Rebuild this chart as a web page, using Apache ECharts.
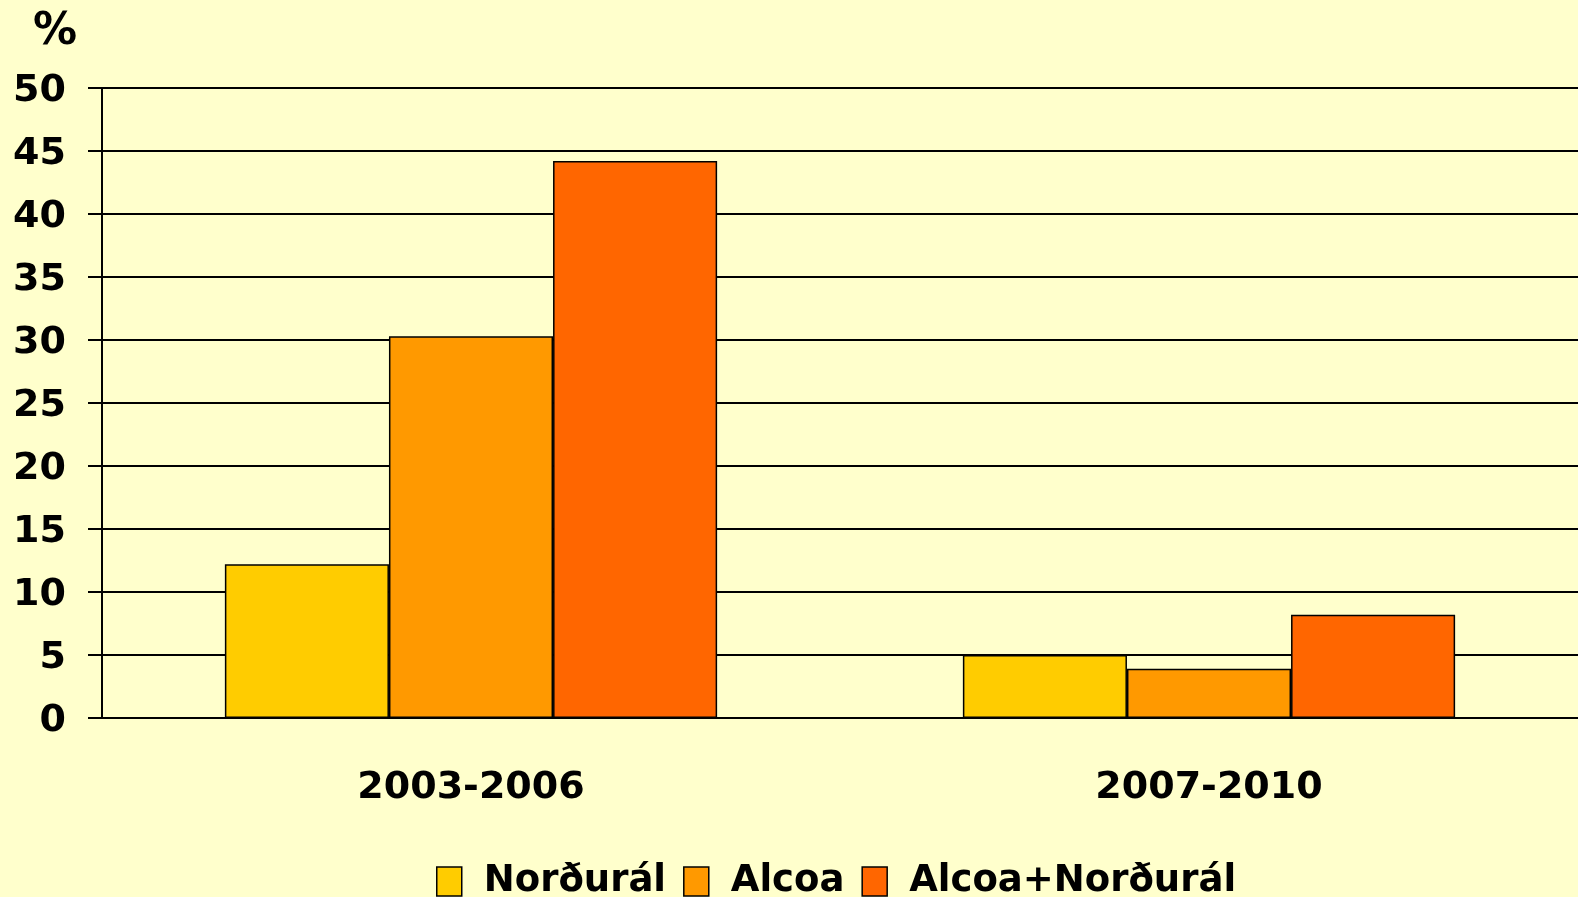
<!DOCTYPE html>
<html>
<head>
<meta charset="utf-8">
<script src="https://cdn.jsdelivr.net/npm/echarts@6/dist/echarts.min.js"></script>
<style>
html, body { margin: 0; padding: 0; background: #FFFFCC; }
#main { width: 1578px; height: 897px; }
</style>
</head>
<body>
<div id="main"></div>
<script>
var categories = ['2003-2006', '2007-2010'];
var seriesNames = ['Norðurál', 'Alcoa', 'Alcoa+Norðurál'];
var nordural = [12.2, 5.0];
var alcoa = [30.3, 3.9];
var alcoaNordural = [44.2, 8.2];

var myChart = echarts.init(document.getElementById('main'));

var font = 'DejaVu Sans';

function barSeries(name, data) {
	return {
		name : name,
		type : 'bar',
		barGap : 0,
		barCategoryGap : '33.3%',
		itemStyle : {
			borderColor : '#000000',
			borderWidth : 1.5
		},
		data : data
	};
}

var option = {
	backgroundColor : '#FFFFCC',
	color : [ '#FFCC00', '#FF9900', '#FF6600' ],
	title : {
		text : '%',
		left : 28,
		top : 6,
		textStyle : {
			fontFamily : font,
			fontWeight : 'bold',
			fontSize : 44,
			color : '#000000'
		}
	},
	grid : {
		left : 102,
		right : 0,
		top : 88,
		bottom : 179
	},
	legend : {
		top : 858,
		left : 431,
		icon : 'rect',
		itemWidth : 25,
		itemHeight : 29,
		itemGap : 17,
		data : seriesNames,
		itemStyle : {
			borderColor : '#000000',
			borderWidth : 1.5
		},
		textStyle : {
			fontFamily : font,
			fontWeight : 'bold',
			fontSize : 37,
			color : '#000000',
			padding : [ 0, 0, 0, 17 ]
		}
	},
	xAxis : {
		type : 'category',
		data : categories,
		axisLine : {
			lineStyle : { color : '#000000', width : 2 }
		},
		axisTick : {
			length : 15,
			lineStyle : { color : '#000000', width : 2 }
		},
		axisLabel : {
			margin : 51,
			fontFamily : font,
			fontWeight : 'bold',
			fontSize : 38,
			color : '#000000'
		}
	},
	yAxis : {
		type : 'value',
		min : 0,
		max : 50,
		interval : 5,
		axisLine : {
			show : true,
			lineStyle : { color : '#000000', width : 2 }
		},
		axisTick : {
			show : true,
			length : 14,
			lineStyle : { color : '#000000', width : 2 }
		},
		splitLine : {
			lineStyle : { color : '#000000', width : 2 }
		},
		axisLabel : {
			margin : 36,
			verticalAlign : 'top',
			lineHeight : 6,
			fontFamily : font,
			fontWeight : 'bold',
			fontSize : 38,
			color : '#000000'
		}
	},
	series : [
		barSeries(seriesNames[0], nordural),
		barSeries(seriesNames[1], alcoa),
		barSeries(seriesNames[2], alcoaNordural)
	]
};

myChart.setOption(option);
</script>
</body>
</html>
